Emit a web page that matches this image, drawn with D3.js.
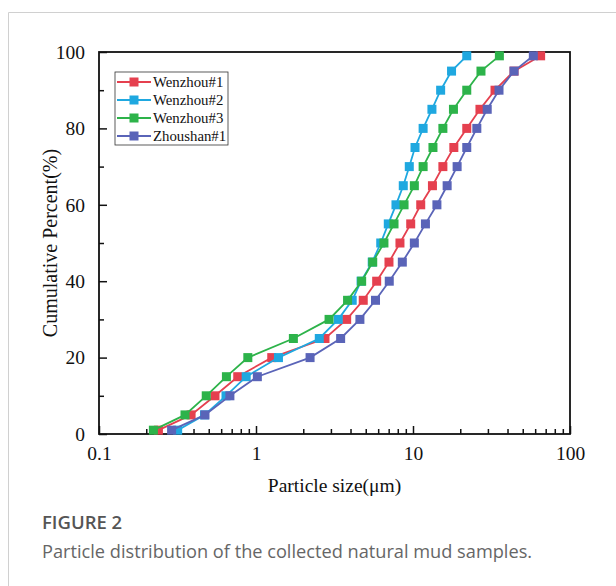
<!DOCTYPE html>
<html>
<head>
<meta charset="utf-8">
<script src="https://cdn.jsdelivr.net/npm/d3@7"></script>
<style>
  body { margin: 0; background: #fff; }
  svg { display: block; }
</style>
</head>
<body>
<div id="chart"></div>
<script>
// cumulative percent levels, shared by all samples
const percents = [1, 5, 10, 15, 20, 25, 30, 35, 40, 45, 50, 55, 60, 65, 70, 75, 80, 85, 90, 95, 99];

// particle size (um) at each percent level
const wenzhou1 = [0.239, 0.386, 0.548, 0.765, 1.26, 2.75, 3.78, 4.82, 5.87, 7.03, 8.26, 9.67, 11.2, 13.3, 15.5, 18.2, 22.0, 26.7, 33.3, 44.0, 65.0];
const wenzhou2 = [0.317, 0.47, 0.644, 0.866, 1.39, 2.53, 3.34, 4.10, 4.67, 5.50, 6.23, 6.96, 7.79, 8.67, 9.47, 10.3, 11.6, 13.2, 15.0, 17.6, 22.0];
const wenzhou3 = [0.222, 0.353, 0.482, 0.648, 0.887, 1.73, 2.92, 3.83, 4.71, 5.54, 6.53, 7.57, 8.77, 10.2, 11.6, 13.4, 15.5, 18.1, 22.0, 27.1, 35.5];
const zhoushan1 = [0.290, 0.473, 0.682, 1.02, 2.21, 3.46, 4.59, 5.77, 7.06, 8.55, 10.2, 12.0, 14.2, 16.5, 19.1, 22.0, 25.5, 29.7, 35.3, 44.0, 58.4];

const seriesNames = ["Wenzhou#1", "Wenzhou#2", "Wenzhou#3", "Zhoushan#1"];
const seriesColors = ["#e5404f", "#1fa8e0", "#2db34a", "#5a64b8"];
const seriesValues = [wenzhou1, wenzhou2, wenzhou3, zhoushan1];

const xTicks = [0.1, 1, 10, 100];
const yTicks = [0, 20, 40, 60, 80, 100];
const yMinorTicks = [10, 30, 50, 70, 90];

const W = 616, H = 586;
const mLeft = 99, mRight = 570, mTop = 52, mBottom = 434;
const serif = "'Liberation Serif', 'Times New Roman', serif";

const svg = d3.select("#chart").append("svg")
    .attr("width", W)
    .attr("height", H);

// card outline
svg.append("path")
    .attr("d", "M8.5," + H + "V12.5H" + W)
    .attr("fill", "none")
    .attr("stroke", "#d0d0d0")
    .attr("stroke-width", 1);

const x = d3.scaleLog().domain([0.1, 100]).range([mLeft, mRight]);
const y = d3.scaleLinear().domain([0, 100]).range([mBottom, mTop]);

// minor ticks on log axis
var xMinor = [];
[0.1, 1, 10].forEach(function(d) {
  for (var k = 2; k <= 9; k++) xMinor.push(d * k);
});

const axisG = svg.append("g");

axisG.append("g")
    .attr("transform", "translate(0," + mBottom + ")")
    .call(d3.axisBottom(x).tickValues(xTicks).tickSize(-8).tickPadding(12)
      .tickFormat(function(d) { return String(d); }))
    .call(function(g) {
      g.select(".domain").remove();
      g.selectAll("text").attr("font-family", serif).attr("font-size", 19.5).attr("fill", "#111");
      g.selectAll("line").attr("stroke", "#111").attr("stroke-width", 1.5);
    });

axisG.append("g")
    .attr("transform", "translate(0," + mBottom + ")")
    .call(d3.axisBottom(x).tickValues(xMinor).tickSize(-5).tickFormat(""))
    .call(function(g) {
      g.select(".domain").remove();
      g.selectAll("line").attr("stroke", "#111").attr("stroke-width", 1.5);
    });

axisG.append("g")
    .attr("transform", "translate(" + mLeft + ",0)")
    .call(d3.axisLeft(y).tickValues(yTicks).tickSize(-8).tickPadding(14))
    .call(function(g) {
      g.select(".domain").remove();
      g.selectAll("text").attr("font-family", serif).attr("font-size", 19.5).attr("fill", "#111");
      g.selectAll("line").attr("stroke", "#111").attr("stroke-width", 1.5);
    });

axisG.append("g")
    .attr("transform", "translate(" + mLeft + ",0)")
    .call(d3.axisLeft(y).tickValues(yMinorTicks).tickSize(-5).tickFormat(""))
    .call(function(g) {
      g.select(".domain").remove();
      g.selectAll("line").attr("stroke", "#111").attr("stroke-width", 1.5);
    });

// frame box
svg.append("rect")
    .attr("x", mLeft).attr("y", mTop)
    .attr("width", mRight - mLeft).attr("height", mBottom - mTop)
    .attr("fill", "none")
    .attr("stroke", "#111")
    .attr("stroke-width", 1.8);

// series
const line = d3.line()
    .x(function(d) { return x(d[0]); })
    .y(function(d) { return y(d[1]); });

seriesValues.forEach(function(vals, i) {
  const pts = vals.map(function(v, j) { return [v, percents[j]]; });
  const g = svg.append("g");
  g.append("path")
      .datum(pts)
      .attr("d", line)
      .attr("fill", "none")
      .attr("stroke", seriesColors[i])
      .attr("stroke-width", 1.8);
  g.selectAll("rect")
      .data(pts)
      .enter()
      .append("rect")
      .attr("x", function(d) { return x(d[0]) - 4.5; })
      .attr("y", function(d) { return y(d[1]) - 4.5; })
      .attr("width", 9)
      .attr("height", 9)
      .attr("fill", seriesColors[i]);
});

// legend
const legend = svg.append("g").attr("transform", "translate(115,72)");
legend.append("rect")
    .attr("width", 113).attr("height", 73)
    .attr("fill", "#fff")
    .attr("stroke", "#333")
    .attr("stroke-width", 0.8);

seriesNames.forEach(function(name, i) {
  const ly = 10 + i * 18;
  const item = legend.append("g").attr("transform", "translate(0," + ly + ")");
  item.append("line")
      .attr("x1", 2).attr("x2", 36)
      .attr("stroke", seriesColors[i]).attr("stroke-width", 1.8);
  item.append("rect")
      .attr("x", 14.5).attr("y", -4.5)
      .attr("width", 9).attr("height", 9)
      .attr("fill", seriesColors[i]);
  item.append("text")
      .attr("x", 38).attr("y", 5)
      .attr("font-family", serif)
      .attr("font-size", 14.8)
      .attr("fill", "#111")
      .text(name);
});

// axis titles
svg.append("text")
    .attr("x", (mLeft + mRight) / 2)
    .attr("y", 492)
    .attr("text-anchor", "middle")
    .attr("font-family", serif)
    .attr("font-size", 19.5)
    .attr("fill", "#111")
    .text("Particle size(\u03bcm)");

svg.append("text")
    .attr("transform", "translate(57," + ((mTop + mBottom) / 2) + ") rotate(-90)")
    .attr("text-anchor", "middle")
    .attr("font-family", serif)
    .attr("font-size", 20)
    .attr("fill", "#111")
    .text("Cumulative Percent(%)");

// caption
svg.append("text")
    .attr("x", 42).attr("y", 529)
    .attr("font-family", "'Open Sans', sans-serif")
    .attr("font-size", 18.5)
    .attr("font-weight", 600)
    .attr("fill", "#555")
    .text("FIGURE 2");

svg.append("text")
    .attr("x", 42).attr("y", 558)
    .attr("font-family", "'Open Sans', sans-serif")
    .attr("font-size", 18.2)
    .attr("fill", "#666")
    .text("Particle distribution of the collected natural mud samples.");
</script>
</body>
</html>
